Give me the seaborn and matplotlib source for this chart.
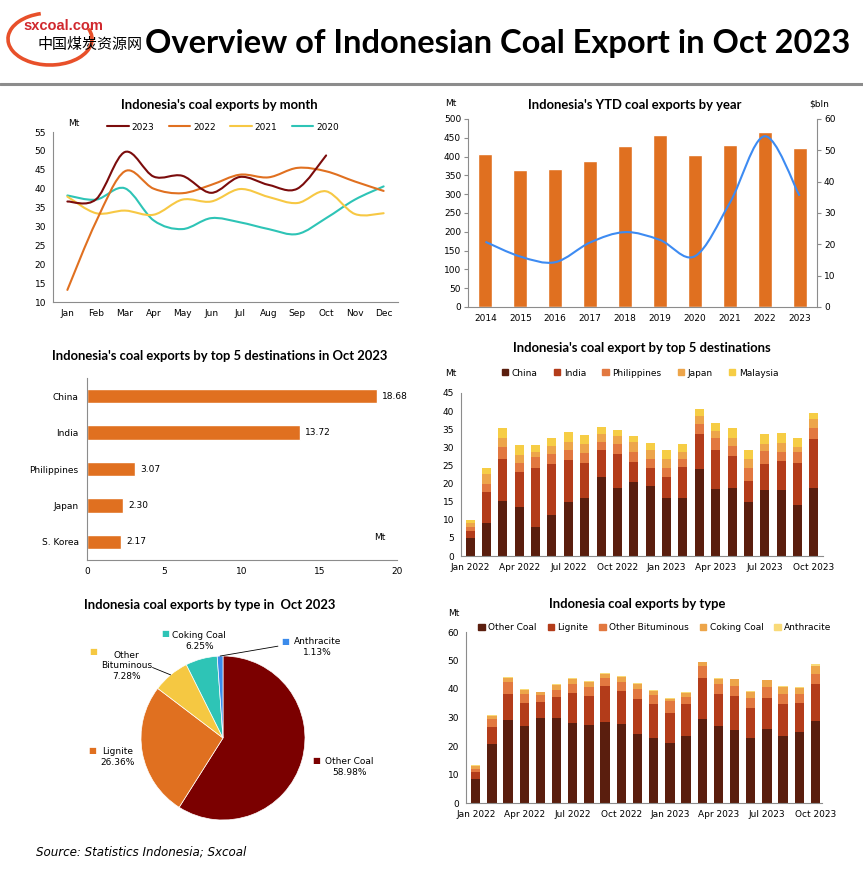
import numpy as np
import pandas as pd
import matplotlib
matplotlib.use("Agg")
import matplotlib.pyplot as plt
import seaborn as sns
from matplotlib.path import Path
from matplotlib.patches import PathPatch, Arc, Patch
from matplotlib.lines import Line2D

# ---- data ----
months = ['Jan', 'Feb', 'Mar', 'Apr', 'May', 'Jun', 'Jul', 'Aug', 'Sep', 'Oct', 'Nov', 'Dec']
exp_2023 = [36.6, 37.2, 49.7, 43.2, 43.4, 38.9, 43.1, 41.0, 40.0, 48.8]
exp_2022 = [13.2, 31.3, 44.6, 40.0, 38.8, 41.0, 43.7, 43.0, 45.5, 44.6, 41.9, 39.4]
exp_2021 = [37.9, 33.5, 34.2, 33.1, 37.1, 36.6, 39.9, 37.8, 36.2, 39.3, 33.3, 33.5]
exp_2020 = [38.2, 37.1, 40.1, 31.6, 29.3, 32.2, 31.1, 29.3, 28.0, 32.2, 37.1, 40.6]

years = ['2014', '2015', '2016', '2017', '2018', '2019', '2020', '2021', '2022', '2023']
ytd_volume = [408, 365, 368, 389, 429, 458, 405, 432, 466, 424]
ytd_value = [20.8, 16.1, 14.3, 20.6, 23.9, 21.4, 16.2, 33.2, 54.5, 35.5]

countries = ['China', 'India', 'Philippines', 'Japan', 'S. Korea']
oct_dest = [18.68, 13.72, 3.07, 2.30, 2.17]

periods = list(pd.date_range('2022-01-01', periods=22, freq='MS').strftime('%b %Y'))
dest_names = ['China', 'India', 'Philippines', 'Japan', 'Malaysia']
china = [5.0, 9.2, 15.2, 13.4, 8.1, 11.2, 14.9, 16.1, 21.7, 18.9, 20.3, 19.2, 16.1, 16.1, 23.9, 18.6, 18.9, 14.8, 18.1, 18.1, 14.2, 18.68]
india = [1.9, 8.5, 11.7, 9.7, 16.3, 14.1, 11.5, 9.7, 7.5, 9.3, 5.7, 5.2, 5.6, 8.6, 9.9, 10.6, 8.6, 6.0, 7.2, 8.0, 11.6, 13.72]
philippines = [1.2, 2.2, 3.1, 2.7, 2.8, 2.9, 2.8, 2.7, 2.3, 2.6, 2.8, 2.5, 2.7, 2.2, 2.7, 3.3, 2.9, 3.6, 3.6, 2.5, 2.8, 3.07]
japan = [1.1, 2.8, 2.7, 2.2, 1.4, 2.1, 2.4, 2.3, 2.3, 2.2, 2.6, 2.5, 2.5, 1.9, 2.2, 1.9, 2.1, 2.5, 1.9, 2.5, 1.4, 2.30]
malaysia = [0.8, 1.5, 2.5, 2.7, 2.1, 2.4, 2.7, 2.7, 1.9, 1.9, 1.8, 1.9, 2.3, 2.2, 2.0, 2.2, 2.7, 2.3, 2.8, 2.8, 2.5, 1.7]

type_names = ['Other Coal', 'Lignite', 'Other Bituminous', 'Coking Coal', 'Anthracite']
other_coal = [8.3, 20.6, 29.0, 26.9, 29.7, 29.7, 28.0, 27.3, 28.3, 27.6, 24.1, 22.7, 20.9, 23.5, 29.4, 26.9, 25.5, 22.7, 25.8, 23.4, 24.8, 28.7]
lignite = [2.5, 5.9, 9.1, 8.1, 5.6, 7.4, 10.5, 10.1, 12.6, 11.6, 12.3, 11.9, 10.6, 11.1, 14.3, 11.2, 11.9, 10.5, 10.9, 11.2, 10.2, 12.9]
other_bit = [1.0, 2.9, 4.2, 3.1, 2.5, 2.4, 3.1, 3.2, 2.8, 3.1, 3.5, 3.2, 4.2, 2.5, 4.3, 3.5, 3.5, 3.5, 3.9, 3.5, 3.1, 3.5]
coking = [1.2, 1.1, 1.4, 1.4, 1.0, 1.8, 1.8, 1.7, 1.4, 1.8, 1.7, 1.4, 0.7, 1.4, 1.4, 1.8, 2.5, 2.1, 2.4, 2.5, 2.1, 2.9]
anthracite = [0.3, 0.4, 0.4, 0.4, 0.1, 0.3, 0.3, 0.4, 0.4, 0.3, 0.4, 0.3, 0.3, 0.3, 0.1, 0.3, 0.1, 0.4, 0.1, 0.3, 0.4, 0.8]

oct_share = [58.98, 26.36, 7.28, 6.25, 1.13]

# ---- style ----
sns.set_theme(style="white")
plt.rcParams['font.family'] = ['DejaVu Sans', 'Noto Sans CJK SC']
plt.rcParams['text.color'] = 'black'
plt.rcParams['xtick.color'] = 'black'
plt.rcParams['ytick.color'] = 'black'
GRAY = '#8c8c8c'
ORANGE = '#E07020'
stack_colors = ['#5A1E0E', '#B33C1A', '#E27840', '#EDA54A', '#F6CD45']
type_colors = ['#5A1E0E', '#B33C1A', '#E27840', '#EDA54A', '#F9DA78']
pie_colors = ['#7B0000', '#E07020', '#F5C842', '#2EC4B6', '#3B8BEB']
TITLE_FONT = dict(family=['Lato', 'DejaVu Sans'], fontweight='bold', fontsize=9.4, color='black')
TICK = 6.5

W, H = 863, 880


def rect(l, t, r, b):
    return [l / W, 1 - b / H, (r - l) / W, (b - t) / H]


def ftext(x, y, s, **kw):
    fig.text(x / W, 1 - y / H, s, **kw)


def smooth_path(xs, ys):
    # Excel-like smoothed line: bezier segments through the data points
    pts = np.column_stack([xs, ys]).astype(float)
    n = len(pts)
    verts = [pts[0]]
    codes = [Path.MOVETO]
    for i in range(n - 1):
        p0 = pts[i - 1] if i > 0 else pts[i]
        p1, p2 = pts[i], pts[i + 1]
        p3 = pts[i + 2] if i + 2 < n else pts[i + 1]
        verts += [p1 + (p2 - p0) / 6, p2 - (p3 - p1) / 6, p2]
        codes += [Path.CURVE4] * 3
    return Path(verts, codes)


def style_axes(ax):
    for s in ['top', 'right']:
        ax.spines[s].set_visible(False)
    for s in ['left', 'bottom']:
        ax.spines[s].set_color(GRAY)
        ax.spines[s].set_linewidth(0.8)
    ax.tick_params(axis='both', labelsize=TICK, labelcolor='black', length=3,
                   color=GRAY, width=0.8, pad=2)
    ax.tick_params(axis='both', which='both', direction='out')
    ax.set_xlabel('')
    ax.set_ylabel('')


def cat_ticks_between(ax, n):
    ax.set_xticks(range(n))
    ax.set_xticks(np.arange(-0.5, n, 1), minor=True)
    ax.tick_params(axis='x', which='major', length=0, pad=5)
    ax.tick_params(axis='x', which='minor', length=3, color=GRAY, width=0.8)


def stacked(ax, labels, layers, colors, width):
    cum = np.cumsum(np.array(layers, dtype=float), axis=0)
    for k in range(len(layers) - 1, -1, -1):
        sns.barplot(x=labels, y=cum[k], color=colors[k], width=width,
                    saturation=1, edgecolor='none', ax=ax)


fig = plt.figure(figsize=(8.63, 8.80), dpi=100)

# ---- header ----
bg = fig.add_axes([0, 0, 1, 1], zorder=-1)
bg.set_xlim(0, W)
bg.set_ylim(H, 0)
bg.axis('off')
bg.add_patch(Arc((50, 39), 84, 52, theta1=-15, theta2=250, color='#E8502A', lw=2.6))
bg.axhline(84, color=GRAY, lw=2.2)
ftext(23, 26, 'sxcoal.com', color='#D0282E', fontsize=10.5, fontweight='bold',
      family=['Liberation Sans', 'DejaVu Sans'], va='center')
ftext(37, 45, '中国煤炭资源网', color='black', fontsize=10.8, va='center',
      family=['Noto Sans CJK SC'])
ftext(145, 44, 'Overview of Indonesian Coal Export in Oct 2023', fontsize=23.5,
      fontweight='bold', family=['Lato', 'DejaVu Sans'], va='center', color='black')

# ---- 1: monthly line chart ----
ax1 = fig.add_axes(rect(53, 132, 398, 302))
x = np.arange(12)
series = [('2023', exp_2023, '#7B0C0C'), ('2022', exp_2022, ORANGE),
          ('2021', exp_2021, '#F7C844'), ('2020', exp_2020, '#2EC4B6')]
for name, vals, c in reversed(series):
    ax1.add_patch(PathPatch(smooth_path(x[:len(vals)], vals), fill=False,
                            edgecolor=c, lw=1.5, capstyle='round'))
ax1.set_xlim(-0.5, 11.5)
ax1.set_ylim(10, 55)
ax1.set_yticks(range(10, 56, 5))
style_axes(ax1)
cat_ticks_between(ax1, 12)
ax1.set_xticklabels(months)
ftext(219, 105, "Indonesia's coal exports by month", ha='center', va='center', **TITLE_FONT)
ftext(68, 124, 'Mt', fontsize=TICK, va='center')
fig.legend([Line2D([], [], color=c, lw=1.5) for _, _, c in series],
           [n for n, _, _ in series], loc='center', bbox_to_anchor=(223 / W, 1 - 127 / H),
           ncol=4, frameon=False, fontsize=TICK, handlelength=2.4, columnspacing=1.6,
           handletextpad=0.3)

# ---- 2: YTD bars + value line ----
ax2 = fig.add_axes(rect(468, 119, 817, 307))
sns.barplot(x=years, y=ytd_volume, color=ORANGE, width=0.4, saturation=1, ax=ax2)
ax2.set_xlim(-0.5, 9.5)
ax2.set_ylim(0, 500)
ax2.set_yticks(range(0, 501, 50))
style_axes(ax2)
cat_ticks_between(ax2, 10)
ax2.set_xticklabels(years)
ax2b = ax2.twinx()
ax2b.add_patch(PathPatch(smooth_path(np.arange(10), ytd_value), fill=False,
                         edgecolor='#3D8BF2', lw=1.5))
ax2b.set_ylim(0, 60)
ax2b.set_yticks(range(0, 61, 10))
for s in ['top', 'left', 'bottom']:
    ax2b.spines[s].set_visible(False)
ax2b.spines['right'].set_color(GRAY)
ax2b.spines['right'].set_linewidth(0.8)
ax2b.tick_params(axis='y', labelsize=TICK, labelcolor='black', length=3, color=GRAY,
                 width=0.8, pad=2, direction='out')
ax2b.grid(False)
ftext(635, 105, "Indonesia's YTD coal exports by year", ha='center', va='center', **TITLE_FONT)
ftext(445, 104, 'Mt', fontsize=TICK, va='center')
ftext(809, 104, '$bln', fontsize=TICK, va='center')

# ---- 3: top 5 destinations Oct 2023 ----
ax3 = fig.add_axes(rect(87, 378, 397, 560))
sns.barplot(x=oct_dest, y=countries, orient='h', color=ORANGE, width=0.4,
            saturation=1, ax=ax3)
ax3.bar_label(ax3.containers[0], fmt='%.2f', padding=4, fontsize=TICK)
ax3.set_xlim(0, 20)
ax3.set_xticks(range(0, 21, 5))
ax3.set_ylim(4.5, -0.5)
style_axes(ax3)
ax3.set_yticks(range(5))
ax3.set_yticks(np.arange(-0.5, 5, 1), minor=True)
ax3.tick_params(axis='y', which='major', length=0, pad=6)
ax3.tick_params(axis='y', which='minor', length=3, color=GRAY, width=0.8)
ax3.set_yticklabels(countries)
ftext(220, 356, "Indonesia's coal exports by top 5 destinations in Oct 2023",
      ha='center', va='center', **TITLE_FONT)
ftext(374, 537, 'Mt', fontsize=TICK, va='center')

# ---- 4: stacked destinations ----
ax4 = fig.add_axes(rect(461, 393, 823, 556))
stacked(ax4, periods, [china, india, philippines, japan, malaysia], stack_colors, 0.55)
ax4.set_xlim(-0.55, 21.55)
ax4.set_ylim(0, 45)
ax4.set_yticks(range(0, 46, 5))
style_axes(ax4)
ax4.set_xticks(range(0, 22, 3))
ax4.set_xticklabels(periods[::3])
ax4.tick_params(axis='x', length=0, pad=5)
ftext(642, 348, "Indonesia's coal export by top 5 destinations", ha='center',
      va='center', **TITLE_FONT)
ftext(445, 373, 'Mt', fontsize=TICK, va='center')
fig.legend([Patch(color=c) for c in stack_colors], dest_names, loc='center',
           bbox_to_anchor=(640 / W, 1 - 373 / H), ncol=5, frameon=False, fontsize=TICK,
           handlelength=0.7, handleheight=0.7, handletextpad=0.4, columnspacing=1.8)

# ---- 5: pie by type Oct 2023 ----
ax5 = fig.add_axes(rect(0, 615, 430, 860))
wedges, _ = ax5.pie(oct_share, colors=pie_colors, startangle=90, counterclock=False,
                    radius=1, wedgeprops=dict(edgecolor='white', linewidth=0.5))
ax5.set_xlim(-223 / 82, (430 - 223) / 82)
ax5.set_ylim(-(860 - 738) / 82, (738 - 615) / 82)
ax5.set_aspect('auto')
ax5.axis('off')
label_pos = [(1.54, -0.35), (-1.28, -0.23), (-1.18, 0.88), (-0.29, 1.18), (1.15, 1.11)]
key_pos = [(1.14, -0.28), (-1.60, -0.15), (-1.58, 1.05), (-0.70, 1.27), (0.76, 1.18)]
label_txt = ['Other Coal', 'Lignite', 'Other\nBituminous', 'Coking Coal', 'Anthracite']
for i, w in enumerate(wedges):
    lx, ly = label_pos[i]
    ax5.text(lx, ly, f'{label_txt[i]}\n{oct_share[i]:.2f}%', ha='center', va='center',
             fontsize=TICK, linespacing=1.25)
    kx, ky = key_pos[i]
    ax5.text(kx, ky, '■', color=pie_colors[i], fontsize=6, ha='center', va='center')
for i, start in [(2, (-0.86, 0.86)), (4, (0.67, 1.12))]:
    w = wedges[i]
    mid = np.deg2rad((w.theta1 + w.theta2) / 2)
    ax5.annotate('', xy=(np.cos(mid), np.sin(mid)), xytext=start,
                 arrowprops=dict(arrowstyle='-', color='black', lw=0.6,
                                 shrinkA=0, shrinkB=0))
ftext(210, 605, 'Indonesia coal exports by type in  Oct 2023', ha='center',
      va='center', **TITLE_FONT)

# ---- 6: stacked by type ----
ax6 = fig.add_axes(rect(466, 632, 822, 803))
stacked(ax6, periods, [other_coal, lignite, other_bit, coking, anthracite], type_colors, 0.58)
ax6.set_xlim(-0.6, 21.4)
ax6.set_ylim(0, 60)
ax6.set_yticks(range(0, 61, 10))
style_axes(ax6)
ax6.set_xticks(range(0, 22, 3))
ax6.set_xticklabels(periods[::3])
ax6.tick_params(axis='x', length=0, pad=5)
ftext(637, 604, 'Indonesia coal exports by type', ha='center', va='center', **TITLE_FONT)
ftext(448, 613, 'Mt', fontsize=TICK, va='center')
fig.legend([Patch(color=c) for c in type_colors], type_names, loc='center',
           bbox_to_anchor=(655 / W, 1 - 628 / H), ncol=5, frameon=False, fontsize=TICK,
           handlelength=0.7, handleheight=0.7, handletextpad=0.4, columnspacing=1.2)

ftext(36, 852, 'Source: Statistics Indonesia; Sxcoal', fontsize=8.6, style='italic',
      va='center', color='black')

fig.savefig('out.png', dpi=100)
